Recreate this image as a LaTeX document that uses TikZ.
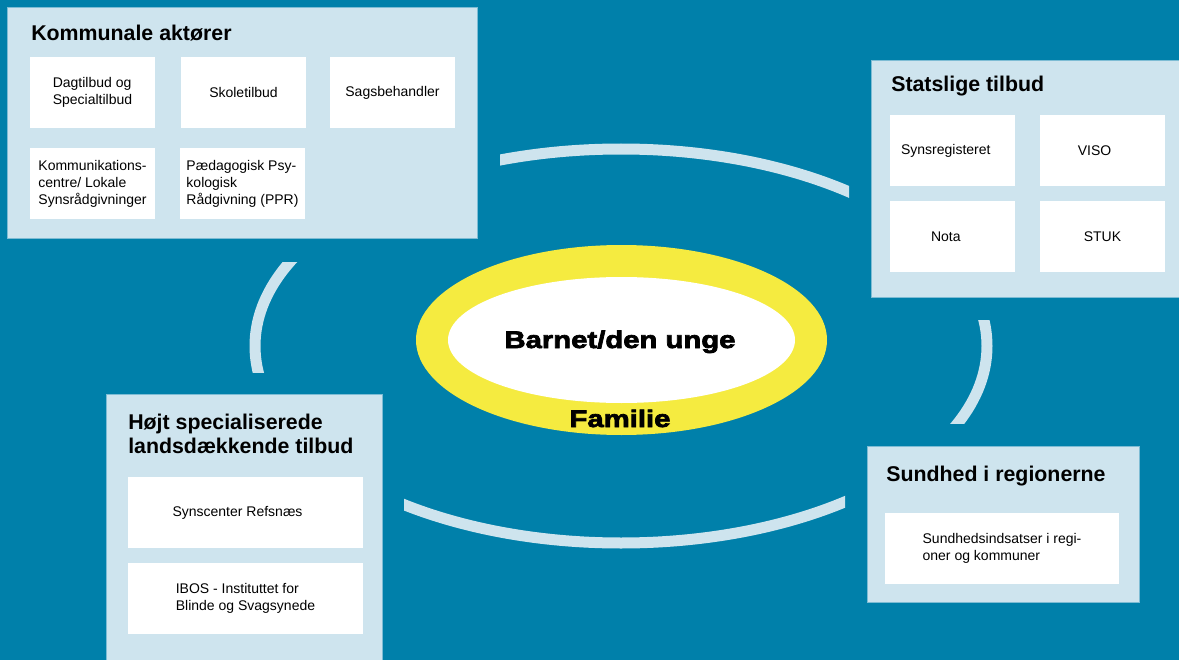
\documentclass[tikz,border=0pt]{standalone}
\usepackage{fontspec}
\setmainfont{Liberation Sans}
\newfontfamily\blackfont[FakeStretch=1.22,FakeBold=3]{Liberation Sans Bold}
\definecolor{bgblue}{RGB}{0,128,170}
\definecolor{panelblue}{RGB}{206,228,238}
\definecolor{paneledge}{RGB}{125,188,212}
\definecolor{ringyellow}{RGB}{245,235,64}
\begin{document}
\begin{tikzpicture}[x=0.75pt,y=-0.75pt,
  panel/.style={fill=panelblue, draw=paneledge, line width=0.6pt, inner sep=0pt, anchor=north west},
  ptitle/.style={font=\fontsize{16}{18}\selectfont\bfseries, inner sep=0pt, anchor=base west, align=left},
  wbox/.style={fill=white, inner sep=0pt, minimum width=125*0.75pt, minimum height=71*0.75pt, align=left, font=\fontsize{10.5}{12.75}\selectfont},
  widebox/.style={wbox, minimum width=235*0.75pt},
  arcline/.style={draw=panelblue, line width=11*0.75pt},
  bigtext/.style={font=\blackfont\fontsize{18}{20}\selectfont, inner sep=0pt, anchor=base}
]
\fill[bgblue] (0,0) rectangle (1179,660);
\useasboundingbox (0,0) rectangle (1179,660);

% connecting arcs (pieces of one large ellipse)
\begin{scope}
  \clip (500,100) rectangle (849,260);
  \draw[arcline] (621,346) ellipse [x radius=366, y radius=197];
\end{scope}
\begin{scope}
  \clip (404,450) rectangle (845,600);
  \draw[arcline] (621,346) ellipse [x radius=366, y radius=197];
\end{scope}
\begin{scope}
  \clip (200,262) rectangle (350,372);
  \draw[arcline] (621,346) ellipse [x radius=366, y radius=197];
\end{scope}
\begin{scope}
  \clip (900,320) rectangle (1050,423);
  \draw[arcline] (621,346) ellipse [x radius=366, y radius=197];
\end{scope}

% centre
\fill[ringyellow] (621.5,340) ellipse [x radius=205.5, y radius=95];
\fill[white] (621.5,340) ellipse [x radius=173.5, y radius=63];
\node[bigtext] (barn) at (620,348) {Barnet/den unge};
\node[bigtext] (fam) at (620,427) {Familie};

% Kommunale aktører
\node[panel, minimum width=470*0.75pt, minimum height=231*0.75pt] (kom) at (7,7) {};
\node[ptitle] (komt) at (31,41) {Kommunale aktører};
\node[wbox] (dag) at (92.5,92.5) {Dagtilbud og\\Specialtilbud};
\node[wbox] (skole) at (243.5,92.5) {Skoletilbud};
\node[wbox] (sags) at (392.5,92.5) {Sagsbehandler};
\node[wbox] (kommc) at (92.5,183.5) {Kommunikations-\\centre/ Lokale\\Synsrådgivninger};
\node[wbox] (ppr) at (242.5,183.5) {Pædagogisk Psy-\\kologisk\\Rådgivning (PPR)};

% Statslige tilbud
\node[panel, minimum width=320*0.75pt, minimum height=237*0.75pt] (stat) at (871,60) {};
\node[ptitle] (statt) at (891,92) {Statslige tilbud};
\node[wbox] (syns) at (952.5,150.5) {Synsregisteret\hspace*{10pt}};
\node[wbox] (viso) at (1102.5,150.5) {VISO\hspace*{12pt}};
\node[wbox] (nota) at (952.5,236.5) {Nota\hspace*{10pt}};
\node[wbox] (stuk) at (1102.5,236.5) {STUK};

% Højt specialiserede
\node[panel, minimum width=276*0.75pt, minimum height=280*0.75pt] (hojt) at (106,394) {};
\node[ptitle] (hojtt) at (128,453) {Højt specialiserede\\landsdækkende tilbud};
\node[widebox] (refs) at (245.5,512.5) {Synscenter Refsnæs\hspace*{12pt}};
\node[widebox] (ibos) at (245.5,598) {IBOS - Instituttet for\\Blinde og Svagsynede};

% Sundhed i regionerne
\node[panel, minimum width=272*0.75pt, minimum height=156*0.75pt] (sund) at (867,446) {};
\node[ptitle] (sundt) at (886,481) {Sundhed i regionerne};
\node[widebox, minimum width=234*0.75pt] (sundb) at (1002,548.5) {Sundhedsindsatser i regi-\\oner og kommuner};
\end{tikzpicture}
\end{document}
